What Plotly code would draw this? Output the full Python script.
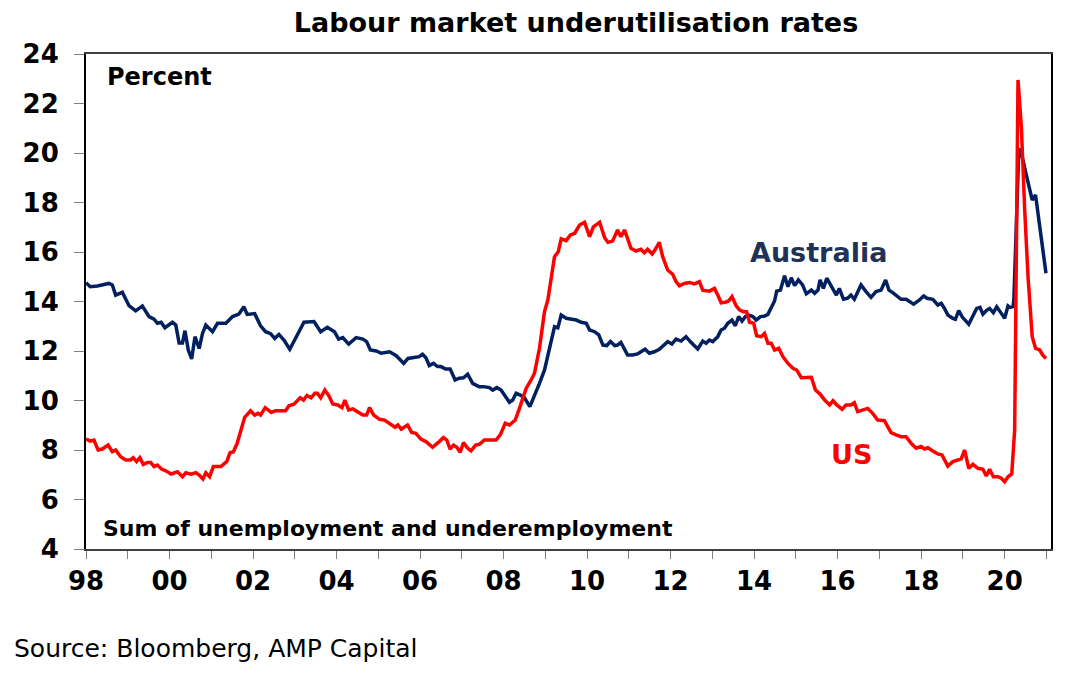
import plotly.graph_objects as go

# Australia underutilisation rate (%), decimal years
aus_x = [1998.00, 1998.10, 1998.27, 1998.55, 1998.63, 1998.71, 1998.87, 1999.03, 1999.19, 1999.35,
         1999.51, 1999.63, 1999.71, 1999.80, 1999.89, 2000.07, 2000.15, 2000.23, 2000.31, 2000.37,
         2000.45, 2000.53, 2000.61, 2000.71, 2000.79, 2000.87, 2001.03, 2001.15, 2001.35, 2001.51,
         2001.66, 2001.78, 2001.86, 2002.04, 2002.18, 2002.30, 2002.42, 2002.52, 2002.62, 2002.74,
         2002.88, 2003.06, 2003.22, 2003.46, 2003.62, 2003.78, 2003.95, 2004.05, 2004.15, 2004.29,
         2004.47, 2004.63, 2004.72, 2004.81, 2004.95, 2005.07, 2005.27, 2005.43, 2005.61, 2005.71,
         2005.86, 2005.98, 2006.06, 2006.14, 2006.22, 2006.32, 2006.42, 2006.50, 2006.61, 2006.72,
         2006.84, 2006.94, 2007.04, 2007.14, 2007.26, 2007.41, 2007.52, 2007.66, 2007.74, 2007.84,
         2007.94, 2008.06, 2008.14, 2008.22, 2008.30, 2008.40, 2008.50, 2008.63, 2008.72, 2008.86,
         2008.98, 2009.10, 2009.22, 2009.30, 2009.38, 2009.50, 2009.62, 2009.74, 2009.86, 2009.98,
         2010.06, 2010.18, 2010.28, 2010.38, 2010.47, 2010.56, 2010.66, 2010.73, 2010.81, 2010.87,
         2010.97, 2011.09, 2011.21, 2011.29, 2011.39, 2011.49, 2011.61, 2011.73, 2011.85, 2011.93,
         2012.03, 2012.13, 2012.25, 2012.37, 2012.47, 2012.57, 2012.65, 2012.77, 2012.85, 2012.93,
         2013.01, 2013.13, 2013.21, 2013.29, 2013.37, 2013.47, 2013.55, 2013.63, 2013.71, 2013.79,
         2013.87, 2013.97, 2014.05, 2014.15, 2014.25, 2014.33, 2014.41, 2014.49, 2014.54, 2014.63,
         2014.73, 2014.81, 2014.89, 2014.97, 2015.06, 2015.16, 2015.25, 2015.37, 2015.45, 2015.53,
         2015.58, 2015.66, 2015.74, 2015.85, 2015.97, 2016.04, 2016.14, 2016.24, 2016.32, 2016.40,
         2016.48, 2016.56, 2016.68, 2016.80, 2016.92, 2017.04, 2017.15, 2017.23, 2017.32, 2017.52,
         2017.64, 2017.82, 2017.96, 2018.06, 2018.14, 2018.28, 2018.40, 2018.48, 2018.56, 2018.64,
         2018.76, 2018.82, 2018.90, 2018.99, 2019.14, 2019.24, 2019.33, 2019.41, 2019.48, 2019.56,
         2019.64, 2019.73, 2019.81, 2019.92, 2020.00, 2020.08, 2020.13, 2020.20, 2020.22, 2020.34,
         2020.42, 2020.52, 2020.58, 2020.66, 2020.74, 2020.84, 2020.91, 2020.99]
aus_y = [14.76, 14.60, 14.63, 14.73, 14.67, 14.26, 14.37, 13.83, 13.62, 13.82,
         13.39, 13.29, 13.12, 13.16, 12.94, 13.16, 13.05, 12.32, 12.32, 12.82,
         12.04, 11.68, 12.58, 12.10, 12.71, 13.05, 12.78, 13.12, 13.12, 13.39,
         13.49, 13.79, 13.48, 13.51, 13.02, 12.78, 12.70, 12.51, 12.67, 12.44,
         12.07, 12.65, 13.16, 13.19, 12.78, 12.96, 12.78, 12.48, 12.54, 12.28,
         12.54, 12.48, 12.38, 12.04, 12.00, 11.91, 11.97, 11.81, 11.50, 11.70,
         11.74, 11.77, 11.87, 11.73, 11.41, 11.50, 11.37, 11.37, 11.27, 11.27,
         10.83, 10.90, 10.92, 11.06, 10.69, 10.56, 10.56, 10.52, 10.42, 10.52,
         10.42, 10.15, 9.93, 10.02, 10.29, 10.22, 10.11, 9.75, 10.09, 10.69,
         11.23, 12.04, 12.98, 12.94, 13.45, 13.32, 13.27, 13.25, 13.16, 13.12,
         12.85, 12.78, 12.65, 12.24, 12.22, 12.38, 12.22, 12.24, 12.35, 12.13,
         11.84, 11.84, 11.88, 11.97, 12.07, 11.91, 11.97, 12.07, 12.24, 12.38,
         12.28, 12.48, 12.40, 12.58, 12.38, 12.22, 12.08, 12.40, 12.31, 12.44,
         12.38, 12.58, 12.85, 12.92, 13.12, 13.25, 13.02, 13.39, 13.21, 13.39,
         13.45, 13.39, 13.25, 13.39, 13.41, 13.48, 13.72, 14.02, 14.42, 14.46,
         15.04, 14.60, 14.96, 14.64, 14.87, 14.67, 14.31, 14.46, 14.33, 14.46,
         14.87, 14.53, 14.94, 14.60, 14.26, 14.53, 14.09, 14.13, 14.26, 14.09,
         14.40, 14.67, 14.40, 14.17, 14.40, 14.46, 14.87, 14.46, 14.36, 14.09,
         14.09, 13.89, 14.06, 14.22, 14.13, 14.09, 13.86, 13.93, 13.72, 13.45,
         13.32, 13.28, 13.63, 13.36, 13.08, 13.41, 13.72, 13.76, 13.49, 13.63,
         13.72, 13.55, 13.79, 13.52, 13.32, 13.82, 13.76, 13.79, 14.06, 20.19,
         19.85, 19.11, 18.71, 18.10, 18.30, 17.02, 16.08, 15.14]

# US underutilisation (U6) rate (%), decimal years
us_x = [1998.00, 1998.10, 1998.19, 1998.29, 1998.39, 1998.53, 1998.63, 1998.71, 1998.83, 1998.95,
        1999.07, 1999.13, 1999.21, 1999.29, 1999.37, 1999.47, 1999.55, 1999.63, 1999.71, 1999.81,
        1999.91, 2000.04, 2000.19, 2000.31, 2000.39, 2000.51, 2000.63, 2000.71, 2000.80, 2000.87,
        2000.96, 2001.05, 2001.23, 2001.37, 2001.45, 2001.53, 2001.62, 2001.70, 2001.80, 2001.94,
        2002.04, 2002.12, 2002.18, 2002.29, 2002.44, 2002.54, 2002.78, 2002.86, 2002.98, 2003.13,
        2003.21, 2003.29, 2003.39, 2003.48, 2003.54, 2003.62, 2003.72, 2003.82, 2003.91, 2004.03,
        2004.13, 2004.20, 2004.29, 2004.39, 2004.51, 2004.63, 2004.72, 2004.79, 2004.89, 2005.03,
        2005.15, 2005.28, 2005.40, 2005.47, 2005.55, 2005.70, 2005.80, 2005.90, 2006.02, 2006.14,
        2006.30, 2006.46, 2006.56, 2006.64, 2006.72, 2006.80, 2006.88, 2006.96, 2007.04, 2007.14,
        2007.22, 2007.33, 2007.42, 2007.54, 2007.68, 2007.82, 2007.92, 2008.04, 2008.14, 2008.28,
        2008.38, 2008.54, 2008.66, 2008.74, 2008.86, 2008.98, 2009.06, 2009.14, 2009.22, 2009.31,
        2009.38, 2009.50, 2009.60, 2009.70, 2009.82, 2009.94, 2010.06, 2010.15, 2010.30, 2010.42,
        2010.50, 2010.61, 2010.73, 2010.81, 2010.90, 2011.05, 2011.17, 2011.29, 2011.37, 2011.45,
        2011.56, 2011.65, 2011.73, 2011.81, 2011.93, 2012.05, 2012.13, 2012.21, 2012.33, 2012.45,
        2012.57, 2012.69, 2012.77, 2012.93, 2013.05, 2013.13, 2013.21, 2013.31, 2013.39, 2013.47,
        2013.57, 2013.65, 2013.74, 2013.82, 2013.89, 2013.99, 2014.06, 2014.17, 2014.25, 2014.33,
        2014.41, 2014.49, 2014.59, 2014.69, 2014.81, 2014.93, 2015.02, 2015.13, 2015.25, 2015.37,
        2015.47, 2015.58, 2015.69, 2015.81, 2015.89, 2015.98, 2016.11, 2016.20, 2016.32, 2016.40,
        2016.48, 2016.60, 2016.72, 2016.84, 2016.96, 2017.12, 2017.28, 2017.40, 2017.52, 2017.64,
        2017.76, 2017.88, 2018.00, 2018.08, 2018.16, 2018.28, 2018.40, 2018.50, 2018.64, 2018.76,
        2018.88, 2018.96, 2019.04, 2019.14, 2019.24, 2019.36, 2019.48, 2019.56, 2019.64, 2019.73,
        2019.84, 2019.92, 2020.00, 2020.08, 2020.17, 2020.24, 2020.32, 2020.40, 2020.48, 2020.56,
        2020.66, 2020.74, 2020.84, 2020.91, 2020.99]
us_y = [8.44, 8.36, 8.40, 8.00, 8.04, 8.20, 7.93, 8.00, 7.73, 7.60,
        7.60, 7.69, 7.53, 7.69, 7.42, 7.50, 7.50, 7.33, 7.39, 7.23,
        7.16, 7.03, 7.12, 6.92, 7.08, 7.02, 7.08, 6.99, 6.83, 7.08,
        6.92, 7.33, 7.33, 7.53, 7.89, 7.93, 8.27, 8.74, 9.32, 9.58,
        9.41, 9.48, 9.41, 9.71, 9.52, 9.59, 9.59, 9.79, 9.85, 10.11,
        10.02, 10.20, 10.11, 10.29, 10.29, 10.11, 10.42, 10.18, 9.86, 9.82,
        9.71, 10.02, 9.62, 9.66, 9.52, 9.41, 9.41, 9.71, 9.41, 9.24,
        9.21, 9.04, 8.92, 9.01, 8.84, 9.01, 8.71, 8.67, 8.44, 8.34,
        8.11, 8.34, 8.50, 8.40, 8.03, 8.20, 8.11, 7.91, 8.30, 8.07,
        7.97, 8.20, 8.23, 8.40, 8.40, 8.40, 8.61, 9.08, 9.01, 9.21,
        9.68, 10.49, 10.83, 11.10, 12.11, 13.59, 14.06, 15.00, 15.81, 16.01,
        16.53, 16.46, 16.69, 16.75, 17.09, 17.20, 16.62, 17.02, 17.20, 16.58,
        16.39, 16.44, 16.89, 16.62, 16.89, 16.15, 16.04, 16.11, 15.97, 16.11,
        15.92, 16.15, 16.39, 15.81, 15.27, 15.10, 14.80, 14.63, 14.73, 14.77,
        14.71, 14.80, 14.46, 14.42, 14.53, 14.26, 13.95, 13.97, 14.02, 14.20,
        13.83, 13.66, 13.59, 13.59, 13.16, 13.12, 12.62, 12.58, 12.71, 12.31,
        12.31, 12.04, 12.11, 11.77, 11.50, 11.30, 11.23, 10.92, 10.92, 10.94,
        10.42, 10.26, 10.02, 9.82, 9.99, 9.82, 9.64, 9.82, 9.82, 9.91,
        9.55, 9.62, 9.68, 9.48, 9.21, 9.19, 8.70, 8.61, 8.54, 8.54,
        8.27, 8.07, 8.14, 8.04, 8.09, 7.96, 7.84, 7.80, 7.35, 7.53,
        7.60, 7.64, 8.00, 7.26, 7.42, 7.26, 7.22, 6.95, 7.22, 6.92,
        6.92, 6.86, 6.72, 6.92, 7.03, 8.81, 22.95, 21.06, 17.70, 15.00,
        12.58, 12.11, 12.04, 11.84, 11.70]

year_ticks = list(range(1998, 2022))
year_labels = ["98", "", "00", "", "02", "", "04", "", "06", "", "08", "", "10", "",
               "12", "", "14", "", "16", "", "18", "", "20", ""]
y_ticks = [4, 6, 8, 10, 12, 14, 16, 18, 20, 22, 24]

FONT = "DejaVu Sans"
NAVY = "#002060"
RED = "#FF0000"

fig = go.Figure()
fig.add_trace(go.Scatter(x=aus_x, y=aus_y, mode="lines", name="Australia",
                         line=dict(color=NAVY, width=3.5)))
fig.add_trace(go.Scatter(x=us_x, y=us_y, mode="lines", name="US",
                         line=dict(color=RED, width=3.5)))

fig.update_layout(
    width=1077, height=680,
    margin=dict(l=86, r=26, t=54, b=131),
    paper_bgcolor="white", plot_bgcolor="white",
    showlegend=False,
    title=dict(text="Labour market underutilisation rates", xref="container", yref="container",
               x=576 / 1077, y=1 - 23 / 680, xanchor="center", yanchor="middle",
               font=dict(family=FONT, size=27, color="black", weight="bold")),
    font=dict(family=FONT, color="black"),
)

fig.update_xaxes(
    range=[1998, 2021.11], tickvals=year_ticks, ticktext=year_labels,
    ticks="outside", ticklen=8, tickwidth=1, tickcolor="#808080",
    tickfont=dict(family=FONT, size=26, color="black", weight="bold"),
    ticklabelstandoff=0,
    showline=True, linecolor="#404040", linewidth=2, mirror=True,
    showgrid=False, zeroline=False,
)
fig.update_yaxes(
    range=[4, 24], tickvals=y_ticks,
    ticks="outside", ticklen=10, tickwidth=1, tickcolor="#808080",
    tickfont=dict(family=FONT, size=26, color="black", weight="bold"),
    ticklabelstandoff=10,
    showline=True, linecolor="black", linewidth=2, mirror=True,
    showgrid=False, zeroline=False,
)

fig.add_annotation(text="Percent", xref="paper", yref="paper", x=(105 - 86) / 965, y=(549 - 77) / 495,
                   xanchor="left", yanchor="middle", showarrow=False,
                   font=dict(family=FONT, size=24, color="black", weight="bold"))
fig.add_annotation(text="Sum of unemployment and underemployment", xref="paper", yref="paper",
                   x=(101 - 86) / 965, y=(549 - 528.5) / 495, xanchor="left", yanchor="middle",
                   showarrow=False, font=dict(family=FONT, size=22, color="black", weight="bold"))
fig.add_annotation(text="Australia", x=2013.86, y=16.0, xanchor="left", yanchor="middle",
                   showarrow=False, font=dict(family=FONT, size=27, color="#1F3358", weight="bold"))
fig.add_annotation(text="US", x=2015.80, y=7.8, xanchor="left", yanchor="middle",
                   showarrow=False, font=dict(family=FONT, size=27, color=RED, weight="bold"))
fig.add_annotation(text="Source: Bloomberg, AMP Capital", xref="paper", yref="paper",
                   x=(12 - 86) / 965, y=(549 - 648.5) / 495, xanchor="left", yanchor="middle",
                   showarrow=False, font=dict(family=FONT, size=25, color="black"))

# the page body has a default 8px margin; remove it so the chart sits at the window corner
fig.write_html("out.html", config={"displayModeBar": False},
               post_script="document.body.style.margin='0';")
